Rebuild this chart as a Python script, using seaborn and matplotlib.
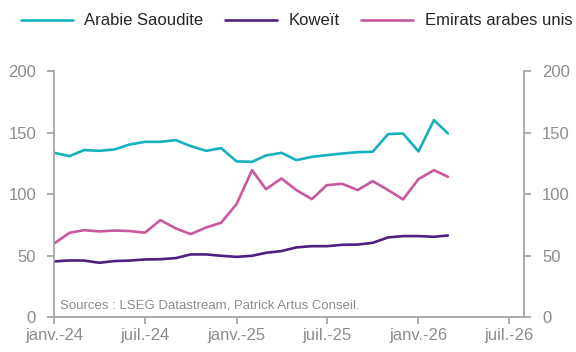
import matplotlib
matplotlib.use("Agg")
import matplotlib.pyplot as plt
import seaborn as sns
import pandas as pd
import numpy as np
from matplotlib.lines import Line2D

months = pd.date_range("2024-01-01", periods=27, freq="MS")
arabie = [133.6, 130.9, 135.8, 135.2, 136.3, 140.4, 142.5, 142.5, 143.9,
          139.0, 135.2, 137.4, 126.6, 126.3, 131.4, 133.6, 127.6, 130.3,
          131.7, 133.0, 134.1, 134.4, 148.8, 149.3, 134.7, 160.2, 149.3]
koweit = [45.3, 46.1, 46.0, 44.2, 45.6, 46.0, 46.9, 47.1, 48.0,
          51.0, 51.0, 49.9, 49.0, 49.9, 52.3, 53.7, 56.7, 57.7,
          57.7, 58.8, 59.0, 60.4, 64.8, 65.9, 65.9, 65.3, 66.4]
emirats = [59.9, 68.6, 70.7, 69.7, 70.4, 70.0, 68.6, 78.9, 72.1,
           67.5, 72.9, 76.7, 91.9, 119.5, 104.0, 112.7, 103.3, 95.9,
           107.3, 108.4, 103.3, 110.6, 103.3, 95.7, 112.2, 119.5, 114.1]
series_names = ["Arabie Saoudite", "Koweït", "Emirats arabes unis"]
colors = ["#17b0bd", "#4f1f7f", "#c9589f"]
tick_dates = pd.to_datetime(["2024-01-01", "2024-07-01", "2025-01-01",
                             "2025-07-01", "2026-01-01", "2026-07-01"])
tick_labels = ["janv.-24", "juil.-24", "janv.-25", "juil.-25", "janv.-26", "juil.-26"]
source = "Sources : LSEG Datastream, Patrick Artus Conseil."

df = pd.DataFrame({"date": list(months) * 3,
                   "value": arabie + koweit + emirats,
                   "serie": [series_names[0]] * 27 + [series_names[1]] * 27 + [series_names[2]] * 27})

sns.set_style("white")
plt.rcParams["font.family"] = ["Liberation Sans", "DejaVu Sans"]

fig = plt.figure(figsize=(5.76, 3.52), dpi=100)
ax = fig.add_axes([0.094, 0.099, 0.816, 0.699])
sns.lineplot(data=df, x="date", y="value", hue="serie", palette=colors,
             hue_order=series_names, linewidth=1.9, ax=ax, legend=False)

gray = "#a6a6a6"
ax.set_xlim(pd.Timestamp("2024-01-01"), pd.Timestamp("2026-08-01"))
ax.set_ylim(0, 200)
ax.set_yticks([0, 50, 100, 150, 200])
ax.set_xticks(tick_dates)
ax.set_xticklabels(tick_labels)
ax.set_xlabel("")
ax.set_ylabel("")
for s in ["left", "right", "bottom"]:
    ax.spines[s].set_color(gray)
    ax.spines[s].set_linewidth(1.3)
ax.spines["top"].set_visible(False)
ax.tick_params(axis="both", colors=gray, labelcolor="#8c8c8c", labelsize=12,
               direction="out", length=5, width=1.3)
ax.tick_params(axis="y", right=True, labelright=True, left=True, labelleft=True, pad=8)
ax.tick_params(axis="x", bottom=True, pad=3)

ax.text(0.013, 0.025, source, transform=ax.transAxes, color="#8c8c8c",
        fontsize=9.5, ha="left", va="bottom")

handles = [Line2D([0], [0], color=c, lw=1.9) for c in colors]
fig.legend(handles, series_names, loc="upper center", bbox_to_anchor=(0.515, 0.995),
           ncol=3, frameon=False, fontsize=12, handlelength=3.1, columnspacing=1.3,
           handletextpad=0.7, borderaxespad=0.3)

fig.savefig("out.png", dpi=100)
